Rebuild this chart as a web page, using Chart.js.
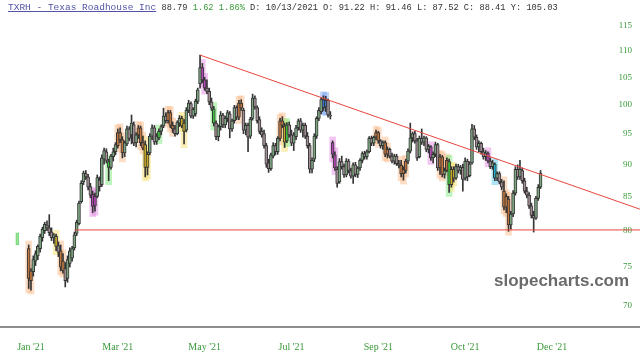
<!DOCTYPE html>
<html><head><meta charset="utf-8">
<script src="https://cdn.jsdelivr.net/npm/chart.js@4.4.1/dist/chart.umd.min.js"></script>
<style>
html,body{margin:0;padding:0;background:#fff;}
#wrap{position:relative;width:640px;height:358px;overflow:hidden;}
#c{position:absolute;left:0;top:0;}
#title{position:absolute;left:8px;top:2px;font-family:'Liberation Mono','Courier New',monospace;font-size:8.7px;line-height:12px;white-space:pre;color:#333;}
#title .lnk{color:#5252a6;text-decoration:underline;font-size:9.5px;}
#title .g{color:#3a9a3a;}
#wm{position:absolute;left:494px;top:271px;font-family:'Liberation Sans',Arial,sans-serif;font-weight:bold;font-size:17px;color:#6a6a6a;}
</style></head><body>
<div id="wrap"><canvas id="c" width="640" height="358"></canvas>
<div id="title"><span class="lnk">TXRH - Texas Roadhouse Inc</span> 88.79 <span class="g">1.62 1.86%</span> D: 10/13/2021 O: 91.22 H: 91.46 L: 87.52 C: 88.41 Y: 105.03</div>
<div id="wm">slopecharts.com</div></div>
<script>
// ---- data (daily candles, bar index 0..224) ----
const opens = [77.5,73.2,74.4,75.8,76.5,77.5,79.0,80.0,80.8,80.4,79.8,79.0,79.2,77.9,77.2,75.8,74.8,73.5,75.5,76.2,
77.6,79.6,81.0,84.2,87.2,88.5,88.0,86.5,85.3,83.6,85.0,87.5,86.8,90.8,92.0,90.4,89.5,91.2,92.0,93.0,
95.2,94.0,91.8,93.3,95.8,94.8,96.5,93.5,94.8,96.0,93.5,93.2,89.5,91.8,94.6,96.0,93.7,94.3,95.4,96.3,
98.0,97.2,98.6,96.4,95.8,95.0,96.8,97.6,96.8,95.6,99.0,100.2,98.0,98.4,100.6,103.8,106.8,104.5,103.0,102.4,
100.5,99.3,96.8,94.5,96.2,98.2,96.5,97.6,98.4,95.8,97.2,99.5,97.8,100.3,99.0,95.6,96.4,94.6,97.6,101.2,
99.5,97.4,95.4,95.0,93.0,90.2,89.3,91.3,93.0,92.0,94.2,97.2,96.3,93.8,96.5,94.8,93.4,94.5,96.0,97.2,
95.6,96.4,94.6,93.0,89.2,90.8,94.6,97.6,98.8,100.9,99.6,100.8,98.2,93.5,91.5,89.2,87.2,90.4,89.6,88.3,
90.5,89.0,88.1,89.9,88.4,89.4,90.6,91.7,91.2,92.0,94.2,93.4,94.4,95.2,93.8,93.0,93.5,91.6,92.4,91.3,
90.5,91.3,90.1,89.8,88.5,89.0,90.5,92.1,94.3,95.0,93.8,91.2,94.2,93.6,94.3,92.4,92.8,91.0,91.6,93.2,
89.4,91.2,88.4,89.0,90.4,86.8,89.2,87.8,89.6,89.0,89.5,87.8,90.5,88.2,90.2,95.8,94.4,92.8,93.4,92.0,
91.2,91.8,90.5,89.6,90.0,87.8,88.5,87.2,85.8,83.4,84.6,80.8,82.4,85.5,89.2,88.0,89.0,87.4,85.8,85.2,
83.6,82.2,81.8,84.7,86.4];
const highs = [78.0,74.8,76.5,77.2,78.0,79.5,80.5,81.2,81.4,82.3,80.4,79.6,79.5,78.4,78.0,76.8,75.6,76.5,77.6,77.8,
79.8,81.5,84.3,87.4,88.9,89.0,88.4,87.0,85.8,85.5,88.3,88.0,91.5,92.6,92.5,90.8,91.6,92.6,93.5,95.8,
96.0,94.5,93.8,96.3,96.2,98.2,97.0,95.2,96.4,96.3,94.6,93.8,92.0,95.0,96.5,96.4,95.0,95.8,96.5,99.4,
98.6,99.0,99.0,97.0,96.4,97.2,98.1,98.0,97.4,99.5,100.8,100.5,99.5,101.0,103.0,109.2,107.6,105.0,104.5,103.0,
101.2,99.7,97.2,96.5,98.8,98.5,98.0,99.0,98.8,97.5,99.9,99.8,100.8,100.9,99.4,96.8,96.8,97.8,101.9,101.6,
99.8,97.9,96.0,95.6,93.4,90.8,91.8,93.5,93.4,94.5,97.6,97.9,96.8,96.9,97.0,95.6,95.2,96.4,97.5,97.6,
96.8,96.8,95.2,93.4,91.0,95.0,97.9,99.5,101.2,101.6,101.5,101.0,98.8,93.8,92.0,89.6,90.9,91.3,90.0,90.9,
90.8,89.4,90.2,90.3,89.6,90.9,92.0,92.1,92.3,94.5,94.6,94.6,95.6,95.4,94.0,93.8,93.8,92.8,92.6,91.8,
91.6,91.6,90.6,90.6,89.6,90.8,92.5,96.8,95.3,95.4,94.2,94.6,95.8,94.6,94.5,93.2,93.0,92.0,93.6,93.4,
91.6,91.4,89.4,91.0,90.8,89.6,89.6,90.0,90.0,89.8,90.0,91.0,90.8,90.4,96.6,96.4,94.8,93.8,93.6,92.6,
92.2,92.0,91.0,90.6,90.2,88.8,88.8,87.6,87.4,85.4,85.0,82.8,85.9,89.6,89.9,90.6,89.4,87.8,86.4,85.6,
84.0,82.8,85.0,86.8,89.0];
const lows = [72.2,72.0,73.8,75.2,76.0,77.0,78.5,79.6,80.0,79.3,78.6,78.2,77.2,76.4,74.5,74.2,72.4,73.0,75.0,75.8,
77.3,79.3,80.8,84.0,86.8,87.6,86.0,84.8,82.6,82.8,84.8,85.8,86.5,90.0,90.2,87.4,89.2,90.5,91.5,92.6,
93.5,91.0,91.2,93.0,93.8,93.3,93.0,92.8,94.2,93.0,92.3,88.0,88.3,91.5,94.0,93.2,93.2,94.0,94.8,96.0,
96.8,96.8,96.0,95.2,94.6,94.8,96.2,96.0,93.3,95.3,98.6,97.7,97.6,98.0,100.2,103.0,104.0,102.6,102.0,100.0,
99.0,96.3,94.0,93.8,95.6,96.0,96.0,97.0,94.3,95.4,96.8,97.4,97.4,99.0,95.0,94.8,92.0,94.2,97.3,99.2,
96.8,95.0,94.4,92.6,89.5,88.7,89.0,91.0,91.5,91.6,93.8,96.0,92.7,93.5,94.4,93.0,92.2,94.0,95.6,95.2,
94.4,94.2,92.6,88.6,88.6,90.4,94.2,97.2,98.4,99.0,98.8,97.8,97.5,91.0,89.0,86.4,87.0,89.2,87.9,88.0,
88.6,87.8,87.0,88.0,87.9,89.0,90.2,90.8,90.8,91.8,93.0,93.0,94.0,93.4,92.6,92.4,91.2,91.0,91.0,90.2,
90.0,89.8,89.4,88.0,87.5,88.6,90.1,91.8,93.6,93.4,90.6,91.0,93.2,93.0,92.0,91.8,90.6,90.2,91.2,89.0,
88.4,88.0,87.8,88.8,85.6,86.4,87.2,87.6,88.6,88.4,85.8,87.5,87.4,88.0,90.0,94.0,92.4,92.0,91.6,90.8,
90.6,90.2,89.3,89.2,87.4,87.4,86.9,86.0,83.0,82.6,79.9,80.2,82.0,85.2,87.6,87.6,87.0,85.5,84.8,83.2,
81.8,79.8,81.6,84.4,86.2];
const closes = [73.5,74.5,76.0,76.8,77.8,79.2,80.2,80.9,80.4,79.7,79.0,79.4,77.8,77.0,75.0,74.5,73.2,76.0,77.2,77.5,
79.4,81.2,84.0,87.0,88.6,88.0,86.4,85.2,83.5,85.0,87.9,86.5,91.0,92.2,90.6,89.5,91.3,92.0,93.2,95.2,
94.0,91.8,93.5,95.8,94.2,96.8,93.4,94.8,96.0,93.5,92.6,89.5,91.6,94.6,96.0,93.6,94.6,95.4,96.2,98.0,
97.2,98.6,96.4,95.8,95.0,96.9,97.6,96.3,95.4,99.0,100.3,98.0,99.2,100.6,102.7,106.8,104.5,103.0,102.4,100.5,
99.4,96.8,94.5,96.2,98.2,96.5,97.6,98.6,95.8,97.2,99.5,97.8,100.3,99.4,95.6,96.4,94.4,97.5,101.2,99.6,
97.2,95.4,94.8,93.0,90.0,89.3,91.5,93.0,92.0,94.2,97.2,96.4,93.6,96.5,94.8,93.4,94.8,96.0,97.2,95.6,
96.4,94.6,93.0,89.2,90.6,94.6,97.6,99.0,100.9,99.5,100.8,98.2,98.0,91.6,89.4,87.0,90.4,89.6,88.3,90.5,
89.0,88.1,89.9,88.4,89.4,90.6,91.7,91.2,92.0,94.2,93.4,94.4,95.2,93.8,93.0,93.5,91.6,92.4,91.3,90.5,
91.3,90.1,89.8,88.5,89.2,90.5,92.1,94.3,95.0,93.8,91.0,94.2,93.6,94.3,92.4,92.9,91.0,91.6,93.2,89.4,
91.2,88.4,89.0,90.6,86.8,89.2,87.8,89.6,89.0,89.5,87.6,90.5,88.0,90.0,95.8,94.4,92.8,93.4,92.0,91.2,
91.8,90.5,89.6,90.2,87.8,88.5,87.2,86.4,83.4,85.0,80.8,82.4,85.5,89.2,88.0,89.2,87.4,85.8,85.2,83.6,
82.2,81.8,84.7,86.4,88.6];
// pattern highlight boxes: [bar, kind]
const highlights = [[0,'orange'],[1,'orange'],[12,'yellow'],[14,'orange'],[15,'orange'],[28,'purple'],[29,'purple'],
[35,'green'],[39,'orange'],[40,'orange'],[41,'orange'],[48,'orange'],[49,'orange'],[50,'orange'],[51,'yellow'],[52,'yellow'],
[57,'green'],[61,'orange'],[62,'orange'],[63,'orange'],[67,'yellow'],[68,'yellow'],[76,'purple'],[77,'purple'],[81,'green'],
[92,'orange'],[93,'orange'],[110,'orange'],[111,'orange'],[112,'yellow'],[113,'green'],[129,'blue'],[130,'blue'],
[133,'purple'],[134,'purple'],[152,'orange'],[153,'orange'],[156,'orange'],[157,'orange'],[163,'orange'],[164,'orange'],[165,'orange'],
[176,'purple'],[180,'orange'],[181,'orange'],[183,'orange'],[184,'green'],[185,'yellow'],[186,'yellow'],[201,'purple'],
[204,'cyan'],[208,'orange'],[209,'orange'],[210,'orange']];
// isolated signal marker before the first candle: [bar, low, high]
const marker = [-5, 78.0, 79.7];
// drawn lines: [bar, price]
const resistance = [[75, 109.2], [267.5, 83.1]];
const support = [[20, 80.1], [267.5, 80.1]];
// axes
const tickBars = [1, 39, 77, 115, 153, 191, 229];
const tickLabels = ["Jan '21", "Mar '21", "May '21", "Jul '21", "Sep '21", "Oct '21", "Dec '21"];
const priceTicks = [70, 75, 80, 85, 90, 95, 100, 105, 110, 115];

// ---- styles ----
const BOX = {orange:'rgba(247,176,122,0.42)', yellow:'rgba(248,222,110,0.5)', purple:'rgba(222,120,222,0.42)',
  green:'rgba(110,230,110,0.45)', cyan:'rgba(70,200,230,0.45)', blue:'rgba(100,150,235,0.42)'};
const BODY = {orange:'#c0773f', yellow:'#c9ab28', purple:'#b548b5', green:'#3fc43f', cyan:'#22aac8', blue:'#3a74c4'};
const UP = '#7ca680', DOWN = '#a28e94', EDGE = '#353535';
const kindOf = {}; highlights.forEach(h => { kindOf[h[0]] = h[1]; });

const bodies = opens.map((o, i) => ({x: i, y: [o, closes[i]]}));
const wicks = opens.map((o, i) => ({x: i, y: [lows[i], highs[i]]}));
const boxes = highlights.map(h => ({x: h[0], y: [lows[h[0]] * 0.993, highs[h[0]] * 1.007]}));

new Chart(document.getElementById('c'), {
  type: 'bar',
  data: { datasets: [
    {type:'line', data: resistance.map(p => ({x:p[0], y:p[1]})), borderColor:'#e8463e', borderWidth:1, pointRadius:0, order:1},
    {type:'line', data: support.map(p => ({x:p[0], y:p[1]})), borderColor:'#e8463e', borderWidth:1, pointRadius:0, order:1},
    {data: bodies, grouped:false, barThickness:3, borderWidth:1, borderSkipped:false, borderColor: EDGE,
      backgroundColor: ctx => { const k = kindOf[ctx.dataIndex]; if (k) return BODY[k];
        return closes[ctx.dataIndex] >= opens[ctx.dataIndex] ? UP : DOWN; }, order:2},
    {data: wicks, grouped:false, barThickness:1, backgroundColor: EDGE, borderWidth:0, order:3},
    {data: boxes, grouped:false, barThickness:6, backgroundColor: ctx => BOX[highlights[ctx.dataIndex][1]], borderWidth:0, order:4},
    {data: [{x: marker[0], y: [marker[1], marker[2]]}], grouped:false, barThickness:3, backgroundColor:'rgba(150,232,150,0.5)',
      borderColor:'rgba(90,205,90,0.8)', borderWidth:1, borderSkipped:false, order:4}
  ]},
  options: {
    responsive:false, devicePixelRatio:1, animation:false,
    layout:{padding:0},
    plugins:{legend:{display:false}, tooltip:{enabled:false}},
    scales:{
      x:{type:'linear', min:-12.56, max:267.53, offset:false, bounds:'data',
        grid:{display:false, drawTicks:false}, border:{display:true, color:'#8e8e8e', width:2},
        ticks:{autoSkip:false, maxRotation:0, padding:14, color:'#3a9a3a',
          font:{family:'Liberation Serif', size:10}, callback:(v, i) => tickLabels[i]},
        afterBuildTicks: s => { s.ticks = tickBars.map(v => ({value:v})); },
        afterFit: s => { s.height = 31; s.paddingLeft = 0; s.paddingRight = 0; }},
      y:{type:'logarithmic', position:'right', min:67.44, max:120.4, bounds:'data',
        grid:{display:false, drawTicks:false}, border:{display:false},
        ticks:{mirror:true, padding:-8, color:'#3a9a3a', font:{family:'Liberation Serif', size:9}, callback: v => String(v)},
        afterBuildTicks: s => { s.ticks = priceTicks.map(v => ({value:v})); },
        afterFit: s => { s.width = 0; s.paddingTop = 0; s.paddingBottom = 0; }}
    }
  }
});
</script></body></html>
